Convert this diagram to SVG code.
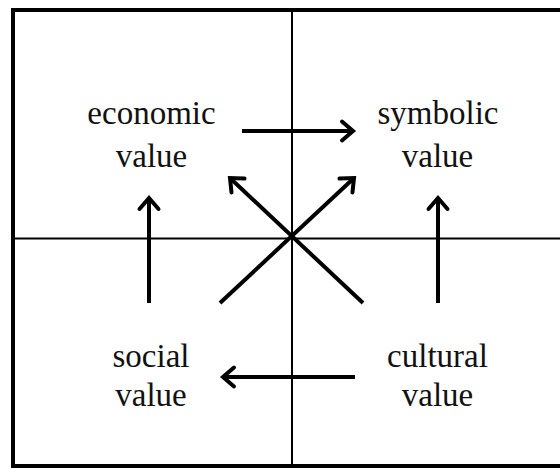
<svg xmlns="http://www.w3.org/2000/svg" width="560" height="468" viewBox="0 0 560 468">
  <style>
    .lbl { font-family: "Liberation Serif", "Times New Roman", serif; font-size: 33px; fill: #111; text-anchor: middle; }
    .frame { fill: none; stroke: #000; stroke-width: 4; }
    .axis { stroke: #000; stroke-width: 2; }
    .arr { stroke: #000; stroke-width: 4; fill: none; marker-end: url(#head); }
  </style>
  <defs>
    <marker id="head" markerUnits="userSpaceOnUse" orient="auto" markerWidth="30" markerHeight="30" refX="0" refY="0" viewBox="-15 -15 30 30" overflow="visible">
      <path d="M-11,-9.5 L0,0 L-11,9.5" fill="none" stroke="#000" stroke-width="4" stroke-linecap="round"/>
    </marker>
  </defs>
  <rect x="0" y="0" width="560" height="468" fill="#fff"/>
  <g id="frame">
    <rect class="frame" x="13" y="10" width="570" height="456"/>
    <line class="axis" x1="292" y1="10" x2="292" y2="466"/>
    <line class="axis" x1="13" y1="238.5" x2="560" y2="238.5"/>
  </g>
  <g id="connectors">
    <line class="arr" x1="242" y1="131" x2="353" y2="131"/>
    <line class="arr" x1="149" y1="303" x2="149" y2="198"/>
    <line class="arr" x1="438" y1="303" x2="438" y2="198"/>
    <line class="arr" x1="355" y1="377" x2="223" y2="377"/>
    <line class="arr" x1="220" y1="303" x2="354" y2="178"/>
    <line class="arr" x1="363" y1="303" x2="230" y2="178"/>
  </g>
  <g id="economic">
    <text class="lbl" x="151.5" y="124">economic</text>
    <text class="lbl" x="151.5" y="167">value</text>
  </g>
  <g id="symbolic">
    <text class="lbl" x="438" y="124">symbolic</text>
    <text class="lbl" x="437.5" y="167">value</text>
  </g>
  <g id="social">
    <text class="lbl" x="151" y="367">social</text>
    <text class="lbl" x="151" y="406">value</text>
  </g>
  <g id="cultural">
    <text class="lbl" x="437.5" y="367">cultural</text>
    <text class="lbl" x="437.5" y="406">value</text>
  </g>
</svg>
